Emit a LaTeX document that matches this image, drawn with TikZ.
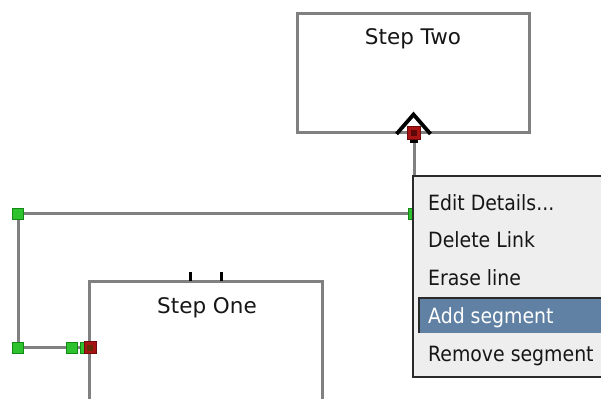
\documentclass[tikz,border=0pt]{standalone}
\usepackage{fontspec}
\setmainfont{DejaVu Sans}
\newfontfamily\menufont{DejaVu Sans Condensed}
\usetikzlibrary{calc,backgrounds}
\begin{document}
\begin{tikzpicture}[x=1pt,y=-1pt,
  boxframe/.style={draw=boxgray,line width=3pt,inner sep=0pt},
  boxlabel/.style={anchor=base,inner sep=0pt,text=textdark,font=\fontsize{21.5}{24}\selectfont},
  link/.style={draw=boxgray,line width=3pt},
  greenhandle/.style={draw=handlegreenedge,fill=handlegreen,line width=1pt,minimum size=11pt,inner sep=0pt},
  redhandle/.style={draw=handerededge,fill=handlered,line width=1pt,minimum size=12pt,inner sep=0pt},
  menuitem/.style={anchor=base west,inner sep=0pt,text=textdark,font=\menufont\fontsize{21}{24}\selectfont},
  tick/.style={draw=black,line width=3pt}
]
\definecolor{boxgray}{HTML}{808080}
\definecolor{textdark}{HTML}{161616}
\definecolor{handlegreen}{HTML}{2FC22F}
\definecolor{handlegreenedge}{HTML}{138A13}
\definecolor{handlered}{HTML}{A81414}
\definecolor{handerededge}{HTML}{6E0C0C}
\definecolor{handleredcore}{HTML}{5A0808}
\definecolor{menubg}{HTML}{EEEEEE}
\definecolor{menuedge}{HTML}{2A2A2A}
\definecolor{menuhi}{HTML}{6081A3}

\useasboundingbox (0,0) rectangle (601,398);
\clip (0,0) rectangle (601,398);

% step boxes (Step One runs past the lower edge)
\node[boxframe,minimum width=232pt,minimum height=119pt] (two) at (413,73.5) {};
\node[boxlabel] (twolabel) at (413,45) {Step Two};
\node[boxframe,minimum width=233pt,minimum height=149pt] (one) at (205.5,355.5) {};
\node[boxlabel] (onelabel) at (207,313) {Step One};

% port ticks on top of Step One
\coordinate (tickA) at (190,272);
\coordinate (tickB) at (221,272);
\draw[tick] (tickA) -- ++(0,9);
\draw[tick] (tickB) -- ++(0,9);

% link handles
\coordinate (r2pos) at (414,133);
\coordinate (r1pos) at (90,347.5);
\node[greenhandle] (g1) at (414,213.5) {};
\node[greenhandle] (g2) at (18,213.5) {};
\node[greenhandle] (g3) at (18,347.5) {};
\node[greenhandle] (g4) at (72,347.5) {};
\node[greenhandle] (g5) at (86,347.5) {};

% the link path, under the handles
\begin{pgfonlayer}{background}
\fill[white] (0,0) rectangle (601,398);
\draw[link] (r1pos) -- (g3.center) -- (g2.center) -- (g1.center) -- (r2pos);
\end{pgfonlayer}

% open arrowhead at Step Two
\draw[black,line width=3.8pt,miter limit=10] (396.5,134) -- (413.5,114.5) -- (430.5,134);
\fill[black] (410,139) rectangle (418,143);
\node[redhandle,minimum size=13pt] (r2) at (r2pos) {};
\fill[handleredcore] ($(r2)+(-3,-3)$) rectangle ($(r2)+(3,3)$);

\node[redhandle] (r1) at (r1pos) {};
\fill[handleredcore!70!olive] ($(r1)+(-3,-3)$) rectangle ($(r1)+(3,3)$);

% context menu
\node[draw=menuedge,fill=menubg,line width=2pt,minimum width=220pt,minimum height=201pt,inner sep=0pt] (menu) at (523,276.5) {};
\fill[menuhi] (418,297) rectangle (610,333);
\draw[menuedge,line width=2pt] (419,333) -- (419,298) -- (610,298);
\node[menuitem] (m1) at (428,210) {Edit Details...};
\node[menuitem] (m2) at (428,247.5) {Delete Link};
\node[menuitem] (m3) at (428,285) {Erase line};
\node[menuitem,text=white] (m4) at (428,323) {Add segment};
\node[menuitem] (m5) at (428,361.5) {Remove segment};
\end{tikzpicture}
\end{document}
